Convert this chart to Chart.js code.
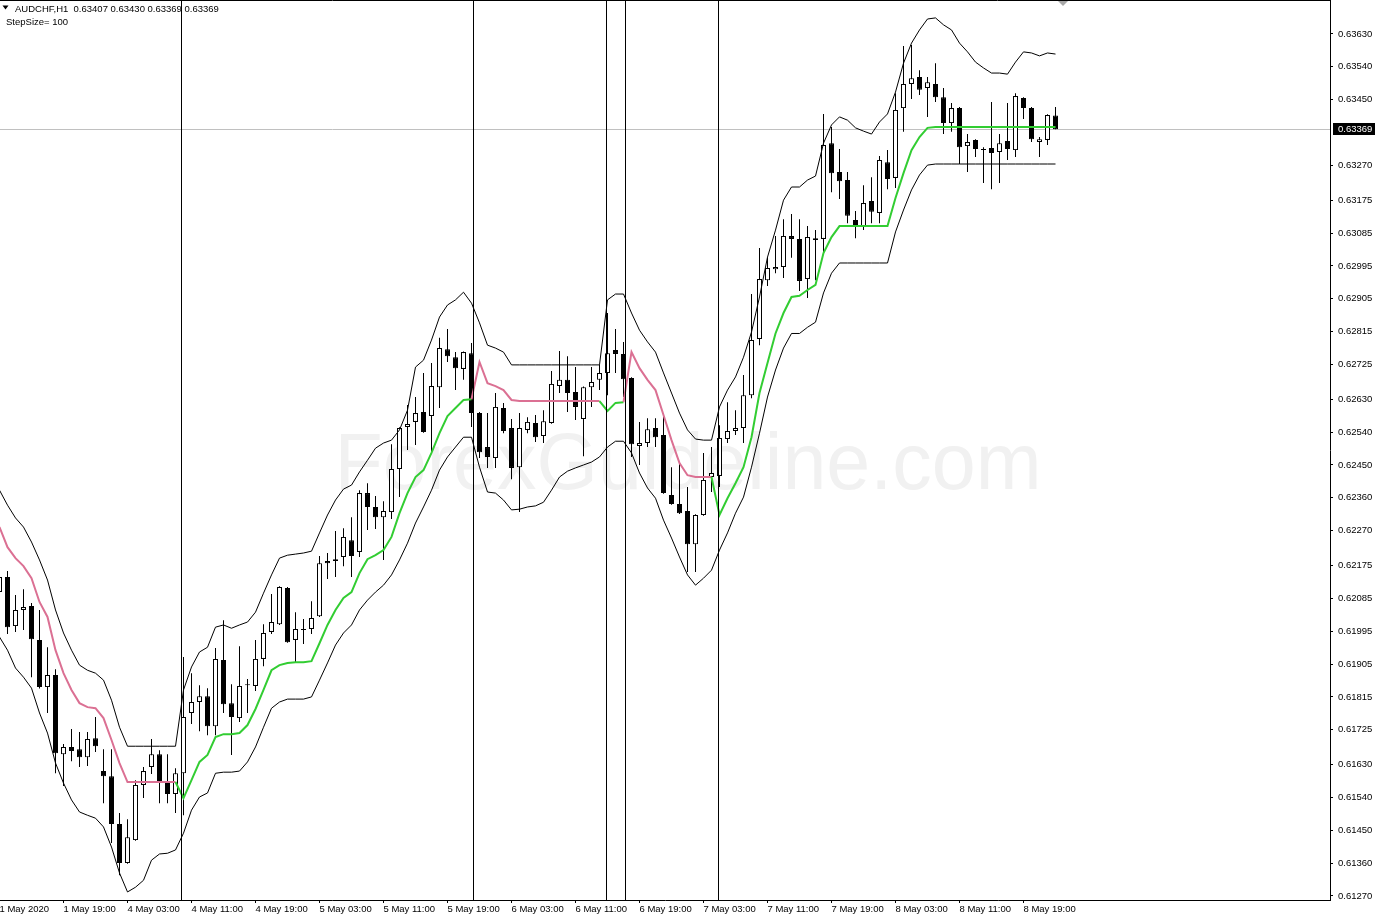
<!DOCTYPE html>
<html>
<head>
<meta charset="utf-8">
<title>AUDCHF,H1</title>
<script src="https://cdn.jsdelivr.net/npm/chart.js@4.4.1/dist/chart.umd.min.js"></script>
<style>
  html, body { margin: 0; padding: 0; background: #fff; }
  canvas { display: block; }
</style>
</head>
<body>
<canvas id="chart" width="1376" height="918"></canvas>
<script>
// AUDCHF H1, one entry per bar (oldest first)
const symbol = 'AUDCHF,H1';
const stepSize = 100;

const opens = [
  0.62102, 0.62143, 0.62009, 0.62053, 0.62064, 0.61971, 0.61842, 0.61875, 0.61658, 0.61678,
  0.61672, 0.61650, 0.61702, 0.61612, 0.61598, 0.61467, 0.61360, 0.61423, 0.61574, 0.61623,
  0.61658, 0.61582, 0.61549, 0.61606, 0.61771, 0.61801, 0.61817, 0.61735, 0.61916, 0.61798,
  0.61757, 0.61847, 0.61845, 0.61919, 0.61993, 0.62014, 0.62113, 0.61971, 0.61998, 0.62001,
  0.62036, 0.62187, 0.62187, 0.62198, 0.62244, 0.62212, 0.62373, 0.62335, 0.62307, 0.62321,
  0.62439, 0.62554, 0.62568, 0.62595, 0.62584, 0.62663, 0.62767, 0.62745, 0.62713, 0.62756,
  0.62592, 0.62499, 0.62469, 0.62606, 0.62551, 0.62444, 0.62546, 0.62565, 0.62529, 0.62565,
  0.62666, 0.62683, 0.62650, 0.62576, 0.62663, 0.62683, 0.62702, 0.62765, 0.62754, 0.62688,
  0.62502, 0.62510, 0.62551, 0.62532, 0.62368, 0.62343, 0.62324, 0.62233, 0.62313, 0.62417,
  0.62420, 0.62521, 0.62543, 0.62551, 0.62641, 0.62795, 0.62956, 0.62986, 0.62992, 0.63077,
  0.63069, 0.62959, 0.63071, 0.63069, 0.63331, 0.63252, 0.63230, 0.63121, 0.63104, 0.63173,
  0.63140, 0.63279, 0.63236, 0.63427, 0.63493, 0.63512, 0.63482, 0.63493, 0.63457, 0.63386,
  0.63427, 0.63323, 0.63340, 0.63315, 0.63318, 0.63307, 0.63337, 0.63312, 0.63455, 0.63427,
  0.63334, 0.63340, 0.63407
];
const highs = [
  0.62154, 0.62160, 0.62094, 0.62110, 0.62072, 0.62053, 0.61951, 0.61891, 0.61686, 0.61727,
  0.61719, 0.61719, 0.61760, 0.61672, 0.61672, 0.61497, 0.61480, 0.61587, 0.61623, 0.61700,
  0.61669, 0.61658, 0.61620, 0.61924, 0.61880, 0.61847, 0.61839, 0.61949, 0.62025, 0.61850,
  0.61954, 0.61864, 0.61971, 0.62014, 0.62097, 0.62118, 0.62116, 0.62047, 0.62028, 0.62077,
  0.62201, 0.62209, 0.62269, 0.62277, 0.62307, 0.62381, 0.62400, 0.62365, 0.62351, 0.62507,
  0.62553, 0.62614, 0.62636, 0.62702, 0.62729, 0.62798, 0.62822, 0.62759, 0.62761, 0.62784,
  0.62595, 0.62592, 0.62647, 0.62620, 0.62576, 0.62592, 0.62581, 0.62587, 0.62600, 0.62707,
  0.62762, 0.62748, 0.62718, 0.62665, 0.62718, 0.62724, 0.62866, 0.62822, 0.62787, 0.62690,
  0.62568, 0.62578, 0.62578, 0.62584, 0.62444, 0.62458, 0.62390, 0.62315, 0.62483, 0.62499,
  0.62559, 0.62622, 0.62600, 0.62696, 0.62918, 0.63044, 0.63019, 0.63077, 0.63123, 0.63137,
  0.63123, 0.63104, 0.63093, 0.63411, 0.63375, 0.63315, 0.63252, 0.63145, 0.63216, 0.63238,
  0.63296, 0.63312, 0.63468, 0.63597, 0.63600, 0.63531, 0.63512, 0.63550, 0.63482, 0.63441,
  0.63430, 0.63356, 0.63342, 0.63320, 0.63444, 0.63356, 0.63441, 0.63468, 0.63457, 0.63430,
  0.63348, 0.63410, 0.63430
];
const lows = [
  0.62091, 0.61987, 0.61993, 0.61998, 0.61869, 0.61838, 0.61771, 0.61606, 0.61571, 0.61639,
  0.61623, 0.61626, 0.61664, 0.61524, 0.61415, 0.61327, 0.61358, 0.61421, 0.61538, 0.61604,
  0.61524, 0.61524, 0.61497, 0.61491, 0.61741, 0.61721, 0.61710, 0.61710, 0.61771, 0.61656,
  0.61746, 0.61771, 0.61831, 0.61899, 0.61987, 0.62012, 0.61963, 0.61910, 0.61960, 0.61987,
  0.62034, 0.62138, 0.62143, 0.62173, 0.62143, 0.62198, 0.62272, 0.62275, 0.62190, 0.62302,
  0.62362, 0.62491, 0.62505, 0.62538, 0.62485, 0.62606, 0.62732, 0.62655, 0.62683, 0.62554,
  0.62469, 0.62442, 0.62442, 0.62537, 0.62411, 0.62321, 0.62537, 0.62513, 0.62510, 0.62563,
  0.62647, 0.62595, 0.62573, 0.62474, 0.62609, 0.62655, 0.62641, 0.62702, 0.62636, 0.62472,
  0.62450, 0.62499, 0.62499, 0.62371, 0.62341, 0.62316, 0.62157, 0.62157, 0.62311, 0.62376,
  0.62390, 0.62510, 0.62532, 0.62510, 0.62633, 0.62778, 0.62940, 0.62975, 0.62962, 0.63017,
  0.62926, 0.62907, 0.62956, 0.63030, 0.63197, 0.63178, 0.63112, 0.63071, 0.63093, 0.63112,
  0.63112, 0.63205, 0.63208, 0.63362, 0.63452, 0.63463, 0.63403, 0.63444, 0.63356, 0.63362,
  0.63274, 0.63252, 0.63293, 0.63222, 0.63205, 0.63222, 0.63285, 0.63293, 0.63397, 0.63334,
  0.63293, 0.63326, 0.63369
];
const closes = [
  0.62143, 0.62006, 0.62053, 0.62061, 0.61973, 0.61842, 0.61875, 0.61661, 0.61678, 0.61667,
  0.61650, 0.61700, 0.61680, 0.61598, 0.61467, 0.61360, 0.61431, 0.61574, 0.61612, 0.61658,
  0.61582, 0.61549, 0.61606, 0.61760, 0.61801, 0.61817, 0.61735, 0.61919, 0.61795, 0.61760,
  0.61845, 0.61850, 0.61919, 0.61990, 0.62020, 0.62116, 0.61965, 0.62001, 0.62001, 0.62031,
  0.62181, 0.62181, 0.62192, 0.62253, 0.62201, 0.62373, 0.62335, 0.62307, 0.62324, 0.62439,
  0.62551, 0.62562, 0.62592, 0.62540, 0.62666, 0.62770, 0.62748, 0.62715, 0.62759, 0.62592,
  0.62485, 0.62472, 0.62609, 0.62543, 0.62442, 0.62551, 0.62568, 0.62526, 0.62570, 0.62672,
  0.62683, 0.62647, 0.62609, 0.62663, 0.62677, 0.62702, 0.62756, 0.62754, 0.62685, 0.62507,
  0.62510, 0.62548, 0.62526, 0.62373, 0.62343, 0.62318, 0.62233, 0.62313, 0.62409, 0.62428,
  0.62524, 0.62543, 0.62551, 0.62641, 0.62792, 0.62959, 0.62989, 0.62992, 0.63077, 0.63069,
  0.62954, 0.63074, 0.63066, 0.63326, 0.63249, 0.63227, 0.63132, 0.63107, 0.63167, 0.63143,
  0.63285, 0.63233, 0.63422, 0.63493, 0.63509, 0.63477, 0.63498, 0.63457, 0.63386, 0.63427,
  0.63320, 0.63334, 0.63315, 0.63312, 0.63304, 0.63331, 0.63315, 0.63460, 0.63427, 0.63342,
  0.63342, 0.63408, 0.63369
];

// channel indicator buffers
const upperBand = [
  0.62381, 0.62340, 0.62305, 0.62280, 0.62239, 0.62190, 0.62135, 0.62053, 0.61990, 0.61943,
  0.61902, 0.61888, 0.61880, 0.61861, 0.61806, 0.61732, 0.61680, 0.61680, 0.61680, 0.61680,
  0.61680, 0.61680, 0.61680, 0.61834, 0.61897, 0.61938, 0.61951, 0.62006, 0.62012, 0.62003,
  0.62012, 0.62020, 0.62047, 0.62099, 0.62149, 0.62195, 0.62203, 0.62206, 0.62209, 0.62214,
  0.62264, 0.62313, 0.62354, 0.62384, 0.62395, 0.62431, 0.62463, 0.62496, 0.62510, 0.62518,
  0.62546, 0.62600, 0.62718, 0.62737, 0.62792, 0.62855, 0.62888, 0.62902, 0.62923, 0.62893,
  0.62839, 0.62778, 0.62770, 0.62759, 0.62724, 0.62724, 0.62724, 0.62724, 0.62724, 0.62724,
  0.62724, 0.62724, 0.62724, 0.62724, 0.62724, 0.62724, 0.62902, 0.62918, 0.62918, 0.62866,
  0.62819, 0.62787, 0.62759, 0.62702, 0.62647, 0.62592, 0.62546, 0.62521, 0.62518, 0.62518,
  0.62609, 0.62655, 0.62691, 0.62745, 0.62814, 0.62910, 0.63019, 0.63093, 0.63175, 0.63211,
  0.63211, 0.63230, 0.63241, 0.63331, 0.63381, 0.63403, 0.63394, 0.63373, 0.63364, 0.63356,
  0.63389, 0.63411, 0.63471, 0.63550, 0.63605, 0.63641, 0.63671, 0.63674, 0.63655, 0.63641,
  0.63605, 0.63581, 0.63553, 0.63537, 0.63523, 0.63523, 0.63520, 0.63553, 0.63581, 0.63578,
  0.63570, 0.63578, 0.63575
];
const lowerBand = [
  0.61979, 0.61943, 0.61894, 0.61869, 0.61839, 0.61771, 0.61716, 0.61634, 0.61579, 0.61533,
  0.61500, 0.61491, 0.61483, 0.61459, 0.61404, 0.61333, 0.61281, 0.61294, 0.61313, 0.61368,
  0.61385, 0.61387, 0.61396, 0.61442, 0.61505, 0.61541, 0.61552, 0.61606, 0.61609, 0.61609,
  0.61612, 0.61637, 0.61678, 0.61732, 0.61784, 0.61801, 0.61809, 0.61809, 0.61809, 0.61815,
  0.61861, 0.61908, 0.61957, 0.61990, 0.62012, 0.62053, 0.62080, 0.62102, 0.62121, 0.62149,
  0.62190, 0.62236, 0.62291, 0.62335, 0.62381, 0.62436, 0.62472, 0.62499, 0.62526, 0.62526,
  0.62444, 0.62376, 0.62373, 0.62354, 0.62327, 0.62329, 0.62335, 0.62338, 0.62348, 0.62381,
  0.62417, 0.62433, 0.62442, 0.62450, 0.62458, 0.62472, 0.62499, 0.62515, 0.62515, 0.62483,
  0.62428, 0.62387, 0.62359, 0.62299, 0.62250, 0.62198, 0.62149, 0.62121, 0.62140, 0.62162,
  0.62217, 0.62264, 0.62318, 0.62362, 0.62444, 0.62537, 0.62636, 0.62710, 0.62770, 0.62810,
  0.62810, 0.62827, 0.62841, 0.62921, 0.62975, 0.63003, 0.63003, 0.63003, 0.63003, 0.63003,
  0.63003, 0.63003, 0.63088, 0.63148, 0.63203, 0.63244, 0.63271, 0.63274, 0.63274, 0.63274,
  0.63274, 0.63274, 0.63274, 0.63274, 0.63274, 0.63274, 0.63274, 0.63274, 0.63274, 0.63274,
  0.63274, 0.63274, 0.63274
];
const midLine = [
  0.62280, 0.62225, 0.62195, 0.62173, 0.62140, 0.62075, 0.62034, 0.61943, 0.61880, 0.61834,
  0.61798, 0.61787, 0.61784, 0.61757, 0.61697, 0.61634, 0.61582, 0.61582, 0.61582, 0.61582,
  0.61582, 0.61582, 0.61582, 0.61538, 0.61587, 0.61637, 0.61656, 0.61705, 0.61713, 0.61713,
  0.61716, 0.61738, 0.61782, 0.61834, 0.61888, 0.61902, 0.61908, 0.61910, 0.61910, 0.61913,
  0.61962, 0.62012, 0.62053, 0.62086, 0.62102, 0.62154, 0.62192, 0.62203, 0.62217, 0.62253,
  0.62318, 0.62373, 0.62417, 0.62436, 0.62483, 0.62537, 0.62584, 0.62606, 0.62628, 0.62630,
  0.62732, 0.62674, 0.62666, 0.62655, 0.62628, 0.62625, 0.62625, 0.62625, 0.62625, 0.62625,
  0.62625, 0.62625, 0.62625, 0.62625, 0.62625, 0.62625, 0.62598, 0.62620, 0.62622, 0.62759,
  0.62715, 0.62683, 0.62655, 0.62587, 0.62518, 0.62455, 0.62422, 0.62417, 0.62417, 0.62417,
  0.62313, 0.62359, 0.62400, 0.62444, 0.62526, 0.62647, 0.62729, 0.62810, 0.62866, 0.62910,
  0.62913, 0.62929, 0.62943, 0.63030, 0.63074, 0.63104, 0.63104, 0.63104, 0.63104, 0.63104,
  0.63104, 0.63104, 0.63181, 0.63249, 0.63312, 0.63348, 0.63373, 0.63375, 0.63375, 0.63375,
  0.63375, 0.63375, 0.63375, 0.63375, 0.63375, 0.63375, 0.63375, 0.63375, 0.63375, 0.63375,
  0.63375, 0.63375, 0.63375
];
// bar ranges where the middle line is in up-trend (green); elsewhere it is pink
const upTrendRanges = [[23, 59], [76, 78], [90, 132]];

// bars carrying a vertical line object
const markerBars = [22.75, 59.25, 75.875, 78.25, 89.875];

const timeTickBars = [0, 8, 16, 24, 32, 40, 48, 56, 64, 72, 80, 88, 96, 104, 112, 120, 128];
const timeTickLabels = [
  '1 May 2020', '1 May 19:00', '4 May 03:00', '4 May 11:00', '4 May 19:00', '5 May 03:00',
  '5 May 11:00', '5 May 19:00', '6 May 03:00', '6 May 11:00', '6 May 19:00', '7 May 03:00',
  '7 May 11:00', '7 May 19:00', '8 May 03:00', '8 May 11:00', '8 May 19:00'
];
const priceTickLabels = [
  '0.63630', '0.63540', '0.63450', '0.63270', '0.63175', '0.63085', '0.62995', '0.62905',
  '0.62815', '0.62725', '0.62630', '0.62540', '0.62450', '0.62360', '0.62270', '0.62175',
  '0.62085', '0.61995', '0.61905', '0.61815', '0.61725', '0.61630', '0.61540', '0.61450',
  '0.61360', '0.61270'
];

const FONT = 'Liberation Sans';
const GREEN = '#32cd32';
const PINK = '#db7093';
const last = closes.length - 1;

const isUpTrend = i => upTrendRanges.some(r => i >= r[0] && i <= r[1]);
const bullish = i => closes[i] >= opens[i];

const wickData = opens.map((_, i) => ({ x: i, y: [lows[i], highs[i]] }));
const bodyData = opens.map((_, i) => ({ x: i, y: [opens[i], closes[i]] }));
const asPoints = arr => arr.map((v, i) => ({ x: i, y: v }));

// keep the plot flush with the canvas edges like the terminal window
const noPadding = s => {
    s.paddingLeft = 0; s.paddingRight = 0; s.paddingTop = 0; s.paddingBottom = 0;
};

const mt4Decor = {
    id: 'mt4Decor',
    beforeDraw(chart) {
        const { ctx, width, height } = chart;
        ctx.save();
        ctx.fillStyle = '#fff';
        ctx.fillRect(0, 0, width, height);
        ctx.restore();
    },
    beforeDatasetsDraw(chart) {
        const { ctx, chartArea: a, scales: { y } } = chart;
        ctx.save();

        // watermark
        ctx.font = `79px "${FONT}"`;
        ctx.fillStyle = '#f1f1f1';
        ctx.textAlign = 'center';
        ctx.textBaseline = 'alphabetic';
        ctx.fillText('ForexGuideline.com', 688, 489);

        // bid line
        const py = Math.round(y.getPixelForValue(closes[last]) - 0.5) + 0.5;
        ctx.strokeStyle = '#c0c0c0';
        ctx.lineWidth = 1;
        ctx.beginPath();
        ctx.moveTo(a.left, py);
        ctx.lineTo(a.right, py);
        ctx.stroke();

        // header
        ctx.fillStyle = '#000';
        ctx.beginPath();
        ctx.moveTo(2.5, 5.5);
        ctx.lineTo(8.5, 5.5);
        ctx.lineTo(5.5, 9.5);
        ctx.closePath();
        ctx.fill();
        ctx.font = `9.5px "${FONT}"`;
        ctx.textAlign = 'left';
        const ohlc = [opens[last], highs[last], lows[last], closes[last]].map(v => v.toFixed(5)).join(' ');
        ctx.fillText(`${symbol}  ${ohlc}`, 15, 12);
        ctx.fillText(`StepSize= ${stepSize}`, 6, 25);
        ctx.restore();
    },
    afterDatasetsDraw(chart) {
        const { ctx, chartArea: a, scales: { x } } = chart;
        ctx.save();
        ctx.strokeStyle = '#000';
        ctx.lineWidth = 1;
        markerBars.forEach(b => {
            const px = Math.round(x.getPixelForValue(b) - 0.5) + 0.5;
            ctx.beginPath();
            ctx.moveTo(px, a.top);
            ctx.lineTo(px, a.bottom);
            ctx.stroke();
        });
        ctx.restore();
    },
    afterDraw(chart) {
        const { ctx, chartArea: a, scales: { y } } = chart;
        ctx.save();
        // top frame
        ctx.strokeStyle = '#000';
        ctx.beginPath();
        ctx.moveTo(a.left, 0.5);
        ctx.lineTo(a.right, 0.5);
        ctx.stroke();
        // chart shift marker
        ctx.fillStyle = '#a8a8a8';
        ctx.beginPath();
        ctx.moveTo(1058, 1);
        ctx.lineTo(1068, 1);
        ctx.lineTo(1063, 6);
        ctx.closePath();
        ctx.fill();
        // current price label
        const py = y.getPixelForValue(closes[last]);
        ctx.fillStyle = '#000';
        ctx.fillRect(a.right + 3, Math.round(py) - 6, 42, 12);
        ctx.fillStyle = '#fff';
        ctx.font = `9.5px "${FONT}"`;
        ctx.textBaseline = 'middle';
        ctx.fillText(closes[last].toFixed(5), a.right + 8, Math.round(py) + 0.5);
        ctx.restore();
    }
};

new Chart(document.getElementById('chart'), {
    type: 'bar',
    data: {
        datasets: [
            {
                type: 'line', data: asPoints(midLine), order: 0,
                borderColor: PINK, borderWidth: 2, pointRadius: 0, tension: 0,
                segment: { borderColor: c => isUpTrend(c.p1DataIndex) ? GREEN : PINK }
            },
            { type: 'line', data: asPoints(upperBand), order: 1, borderColor: '#000', borderWidth: 1, pointRadius: 0, tension: 0 },
            { type: 'line', data: asPoints(lowerBand), order: 1, borderColor: '#000', borderWidth: 1, pointRadius: 0, tension: 0 },
            {
                data: bodyData, order: 2, grouped: false, barThickness: 5, minBarLength: 1,
                backgroundColor: c => bullish(c.dataIndex) ? '#fff' : '#000',
                borderColor: '#000', borderWidth: 1, borderSkipped: false, inflateAmount: 0
            },
            {
                data: wickData, order: 3, grouped: false, barThickness: 1,
                backgroundColor: '#000', borderWidth: 0, inflateAmount: 0
            }
        ]
    },
    options: {
        responsive: false,
        animation: false,
        events: [],
        layout: { padding: 0, autoPadding: false },
        plugins: { legend: { display: false }, tooltip: { enabled: false } },
        scales: {
            x: {
                type: 'linear',
                offset: false,
                min: 0.0625,
                max: 166.3125,
                afterBuildTicks: s => { s.ticks = timeTickBars.map(v => ({ value: v })); },
                afterFit: s => { s.height = 18; noPadding(s); },
                ticks: {
                    callback: v => timeTickLabels[timeTickBars.indexOf(v)],
                    align: 'start', autoSkip: false, maxRotation: 0, padding: 1,
                    color: '#000', font: { family: FONT, size: 9.5 }
                },
                grid: { offset: false, drawOnChartArea: false, drawTicks: true, tickLength: 3, color: '#000' },
                border: { display: true, color: '#000' }
            },
            y: {
                position: 'right',
                min: 0.61259,
                max: 0.63723,
                afterBuildTicks: s => { s.ticks = priceTickLabels.map(t => ({ value: Number(t) })); },
                afterFit: s => { s.width = 46; noPadding(s); },
                ticks: {
                    callback: v => v.toFixed(5),
                    autoSkip: false, padding: 5,
                    color: '#000', font: { family: FONT, size: 9.5 }
                },
                grid: { drawOnChartArea: false, drawTicks: true, tickLength: 3, color: '#000' },
                border: { display: true, color: '#000' }
            }
        }
    },
    plugins: [mt4Decor]
});
</script>
</body>
</html>
